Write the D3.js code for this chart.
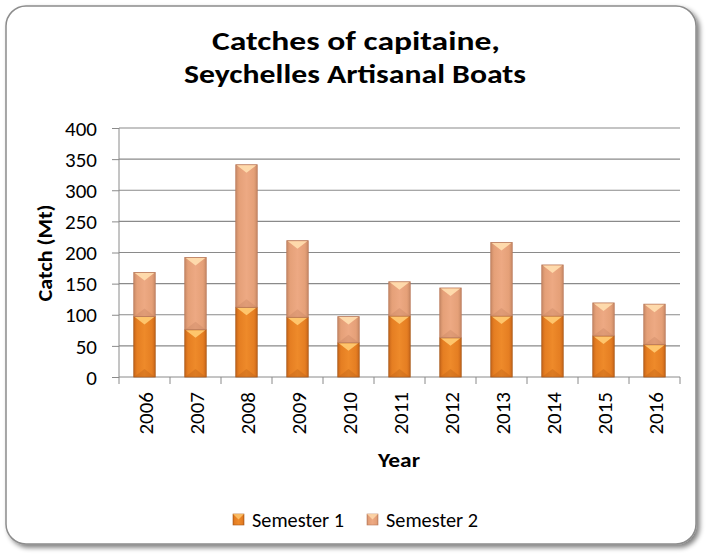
<!DOCTYPE html>
<html><head><meta charset="utf-8">
<script src="https://cdn.jsdelivr.net/npm/d3@7"></script>
<style>body{margin:0;background:#fff}svg{display:block}</style>
</head><body>
<script>
const years = ["2006","2007","2008","2009","2010","2011","2012","2013","2014","2015","2016"];
const semester1 = [97, 76, 112, 96, 55, 98, 63, 98, 98, 66, 52];
const semester2 = [71, 116, 229, 123, 42, 55, 80, 118, 82, 53, 65];
const seriesNames = ["Semester 1", "Semester 2"];
const yTicks = [0,50,100,150,200,250,300,350,400];

const W = 711, H = 556;
const font = "Carlito, Calibri, Lato, 'Liberation Sans', Arial, sans-serif";
const svg = d3.select("body").append("svg").attr("width", W).attr("height", H);
const defs = svg.append("defs");

// shadow filter
const f = defs.append("filter").attr("id","sh").attr("x","-5%").attr("y","-5%").attr("width","110%").attr("height","110%");
f.append("feGaussianBlur").attr("in","SourceAlpha").attr("stdDeviation",2.5).attr("result","b");
f.append("feOffset").attr("in","b").attr("dx",3).attr("dy",3).attr("result","o");
f.append("feComponentTransfer").attr("in","o").attr("result","o2").append("feFuncA").attr("type","linear").attr("slope",0.5);
const m = f.append("feMerge"); m.append("feMergeNode").attr("in","o2"); m.append("feMergeNode").attr("in","SourceGraphic");

svg.append("rect").attr("x",6).attr("y",6).attr("width",690).attr("height",538)
  .attr("rx",20).attr("fill","#fff").attr("stroke","#8c8c8c").attr("stroke-width",1.5).attr("filter","url(#sh)");

// gradients
function grad(id, stops){
  const g = defs.append("linearGradient").attr("id",id).attr("x1","0").attr("x2","1").attr("y1","0").attr("y2","0");
  stops.forEach(s=>g.append("stop").attr("offset",s[0]).attr("stop-color",s[1]));
}
grad("g1", [[0,"#c8661a"],[0.15,"#e57e22"],[0.5,"#ee8a2a"],[0.85,"#e57e22"],[1,"#c8661a"]]);
grad("g2", [[0,"#c98a66"],[0.15,"#e5a078"],[0.5,"#eda983"],[0.85,"#e5a078"],[1,"#c98a66"]]);
const fills = ["url(#g1)","url(#g2)"];
const strokes = ["#a8591a","#b97a5a"];
const hilite = ["#ffc870","#ffdcae"];
const shade = ["#b45a14","#c07e5c"];

// title
const title = svg.append("text").attr("text-anchor","middle").attr("font-family",font)
  .attr("font-weight","bold").attr("font-size",26).attr("fill","#000");
title.append("tspan").attr("x",356).attr("y",50).attr("textLength",288).attr("lengthAdjust","spacingAndGlyphs").text("Catches of capitaine,");
title.append("tspan").attr("x",355).attr("y",83).attr("textLength",342).attr("lengthAdjust","spacingAndGlyphs").text("Seychelles Artisanal Boats");

const x = d3.scaleBand().domain(years).range([119,680]).paddingInner(0.58).paddingOuter(0.29);
const y = d3.scaleLinear().domain([0,400]).range([377,128]);

// gridlines
svg.append("g").selectAll("line").data(yTicks.slice(1)).join("line")
  .attr("x1",119).attr("x2",680).attr("y1",d=>y(d)).attr("y2",d=>y(d))
  .attr("stroke","#8a8a8a").attr("stroke-width",1.2);

// y axis
const ya = svg.append("g").attr("transform","translate(119,0)")
  .call(d3.axisLeft(y).tickValues(yTicks).tickSize(7).tickPadding(15));
ya.select(".domain").attr("stroke","#8a8a8a").attr("d","M0,128V377");
ya.selectAll(".tick line").attr("stroke","#8a8a8a");
ya.selectAll("text").attr("font-family",font).attr("font-size",21).attr("fill","#000").attr("dy","0.34em");

// x axis
const xStep = x.step();
const xa = svg.append("g").attr("transform","translate(0,377)");
xa.append("line").attr("x1",119).attr("x2",680).attr("stroke","#8a8a8a");
xa.selectAll("line.t").data(d3.range(years.length+1)).join("line").attr("class","t")
  .attr("x1",i=>119+i*xStep).attr("x2",i=>119+i*xStep).attr("y1",0).attr("y2",7).attr("stroke","#8a8a8a");
xa.selectAll("text").data(years).join("text")
  .attr("transform",d=>`translate(${x(d)+x.bandwidth()/2+8},15) rotate(-90)`)
  .attr("text-anchor","end").attr("font-family",font).attr("font-size",21).attr("fill","#000").text(d=>d);

// stacked data
const rows = years.map((yr,i)=>({year:yr, s0:semester1[i], s1:semester2[i]}));
const stack = d3.stack().keys(["s0","s1"])(rows);

const bw = x.bandwidth();
stack.forEach((layer, li)=>{
  const g = svg.append("g");
  layer.forEach(d=>{
    const x0 = x(d.data.year), yt = y(d[1]), yb = y(d[0]), h = yb-yt;
    g.append("rect").attr("x",x0).attr("y",yt).attr("width",bw).attr("height",h)
      .attr("fill",fills[li]).attr("stroke",strokes[li]).attr("stroke-width",0.8);
    const tri = Math.min(bw/2, 8);
    g.append("path").attr("d",`M${x0+1},${yt+0.5}L${x0+bw-1},${yt+0.5}L${x0+bw/2},${yt+Math.min(tri,h/2)}Z`)
      .attr("fill",hilite[li]).attr("opacity",0.95);
    g.append("path").attr("d",`M${x0+1},${yb-0.5}L${x0+bw-1},${yb-0.5}L${x0+bw/2},${yb-Math.min(tri,h/2)}Z`)
      .attr("fill",shade[li]).attr("opacity",0.3);
  });
});

// axis titles
svg.append("text").attr("transform","translate(52,253) rotate(-90)").attr("text-anchor","middle")
  .attr("font-family",font).attr("font-weight","bold").attr("font-size",21)
  .attr("textLength",97).attr("lengthAdjust","spacingAndGlyphs").text("Catch (Mt)");
svg.append("text").attr("x",399).attr("y",467).attr("text-anchor","middle")
  .attr("font-family",font).attr("font-weight","bold").attr("font-size",21)
  .attr("textLength",42).attr("lengthAdjust","spacingAndGlyphs").text("Year");

// legend
const legX = [233, 367];
seriesNames.forEach((n,i)=>{
  const lx = legX[i];
  svg.append("rect").attr("x",lx).attr("y",514).attr("width",11).attr("height",11)
    .attr("fill",fills[i]).attr("stroke",strokes[i]).attr("stroke-width",0.6);
  svg.append("path").attr("d",`M${lx},514L${lx+11},514L${lx+5.5},519.5Z`).attr("fill",hilite[i]).attr("opacity",0.8);
  svg.append("text").attr("x",lx+19).attr("y",527).attr("font-family",font).attr("font-size",20)
    .attr("textLength",92).attr("lengthAdjust","spacingAndGlyphs").text(n);
});
</script>
</body></html>
